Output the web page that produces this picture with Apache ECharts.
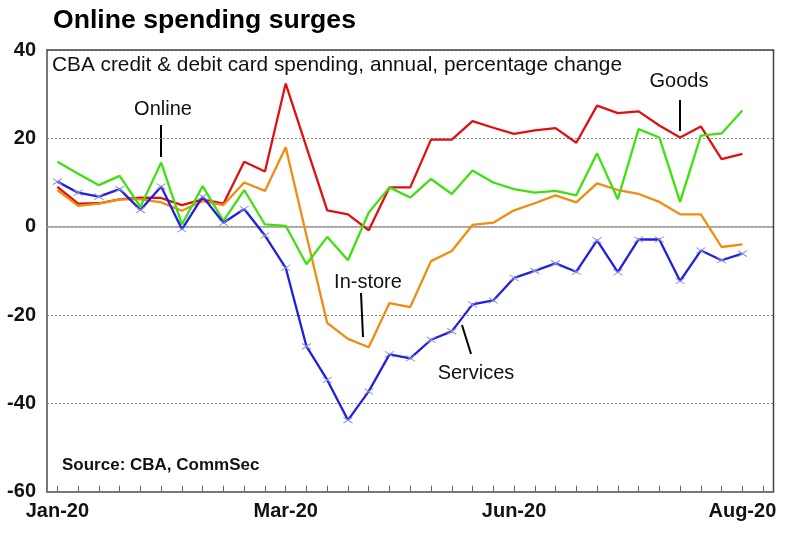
<!DOCTYPE html>
<html>
<head>
<meta charset="utf-8">
<script src="https://cdn.jsdelivr.net/npm/echarts@6/dist/echarts.min.js"></script>
<style>html,body{margin:0;padding:0;background:#fff}#c{width:785px;height:534px}</style>
</head>
<body>
<div id="c"></div>
<script>
// Weekly categories (week ending)
var weeks = ['05-Jan','12-Jan','19-Jan','26-Jan','02-Feb','09-Feb','16-Feb','23-Feb','01-Mar','08-Mar','15-Mar','22-Mar','29-Mar','05-Apr','12-Apr','19-Apr','26-Apr','03-May','10-May','17-May','24-May','31-May','07-Jun','14-Jun','21-Jun','28-Jun','05-Jul','12-Jul','19-Jul','26-Jul','02-Aug','09-Aug','16-Aug','23-Aug','30-Aug'];
var tickLabels = {'05-Jan':'Jan-20','22-Mar':'Mar-20','07-Jun':'Jun-20','23-Aug':'Aug-20'};
var yTicks = [-60, -40, -20, 0, 20, 40];

var goods    = [9.0, 5.2, 5.3, 6.2, 6.6, 6.5, 4.9, 6.2, 5.2, 14.7, 12.5, 32.4, 18.0, 3.7, 2.8, -0.8, 8.9, 8.9, 19.7, 19.7, 23.9, 22.4, 21.0, 21.8, 22.3, 19.0, 27.4, 25.7, 26.1, 22.9, 20.2, 22.7, 15.3, 16.5];
var online   = [14.7, 12.0, 9.4, 11.5, 4.5, 14.5, 0.5, 9.2, 1.3, 8.3, 0.5, 0.2, -8.5, -2.3, -7.6, 3.2, 8.9, 6.6, 10.8, 7.4, 12.7, 10.0, 8.5, 7.7, 8.1, 7.1, 16.6, 6.2, 22.1, 20.2, 5.6, 20.6, 21.1, 26.3];
var instore  = [8.3, 4.7, 5.2, 6.2, 6.2, 5.5, 3.6, 5.8, 4.9, 10.0, 8.1, 18.0, -2.0, -21.8, -25.4, -27.3, -17.3, -18.2, -7.8, -5.5, 0.4, 0.9, 3.7, 5.3, 7.1, 5.5, 9.8, 8.3, 7.4, 5.6, 2.8, 2.8, -4.6, -4.0];
var services = [10.2, 7.7, 6.8, 8.5, 3.8, 9.1, -0.6, 6.8, 0.9, 4.0, -2.0, -9.3, -27.1, -34.7, -43.8, -37.3, -28.9, -29.8, -25.6, -23.7, -17.6, -16.7, -11.6, -10.0, -8.3, -10.2, -3.1, -10.3, -2.9, -2.9, -12.3, -5.4, -7.6, -6.1];

var FONT = "'Liberation Sans', Arial, sans-serif";
var G = {left: 47, top: 50, right: 11.5, bottom: 42.3};
var W = 785, H = 534;
var chart = echarts.init(document.getElementById('c'), null, {renderer: 'canvas'});

function lineSeries(name, data, color, extra) {
  var s = {
    name: name, type: 'line', data: data, xAxisIndex: 0, yAxisIndex: 0,
    showSymbol: false, symbol: 'none', smooth: false,
    lineStyle: {color: color, width: 2.3}, itemStyle: {color: color},
    animation: false, silent: true
  };
  for (var k in extra) s[k] = extra[k];
  return s;
}

var option = {
  animation: false,
  backgroundColor: '#ffffff',
  grid: {left: G.left, top: G.top, right: G.right, bottom: G.bottom, containLabel: false},
  xAxis: [{
    type: 'category', data: weeks, boundaryGap: true,
    axisLine: {show: true, onZero: false, lineStyle: {color: '#777', width: 2}},
    axisTick: {show: true, inside: true, length: 6, alignWithLabel: true, interval: 0, lineStyle: {color: '#666', width: 1}},
    axisLabel: {
      interval: function (i, v) { return tickLabels[v] !== undefined; },
      formatter: function (v) { return tickLabels[v] || ''; },
      fontFamily: FONT, fontSize: 20, fontWeight: 'bold', color: '#111', margin: 10
    },
    splitLine: {show: false}
  }, {
    type: 'category', data: weeks, boundaryGap: true, position: 'bottom',
    axisLine: {show: true, onZero: true, onZeroAxisIndex: 0, lineStyle: {color: '#999', width: 1.5}},
    axisTick: {show: false}, axisLabel: {show: false}, splitLine: {show: false}
  }],
  yAxis: [{
    type: 'value', min: yTicks[0], max: yTicks[yTicks.length - 1], interval: 20,
    axisLine: {show: true, lineStyle: {color: '#777', width: 2}},
    axisTick: {show: false},
    axisLabel: {fontFamily: FONT, fontSize: 20, fontWeight: 'bold', color: '#111', margin: 11},
    splitLine: {show: true, lineStyle: {color: '#888', width: 1, type: [2, 2]}}
  }],
  series: [
    lineSeries('Goods', goods, '#e01010'),
    lineSeries('In-store', instore, '#f08c10'),
    lineSeries('Online', online, '#40e010'),
    lineSeries('Services', services, '#2020e0', {
      showSymbol: true, symbol: 'path://M0,0L8,6M8,0L0,6', symbolSize: [9, 6],
      itemStyle: {color: 'rgba(0,0,0,0)', borderColor: '#8f93d8', borderWidth: 1}
    })
  ],
  graphic: [
    {type: 'polyline', z: 100, silent: true,
     shape: {points: [[G.left, G.top], [W - G.right, G.top], [W - G.right, H - G.bottom]]},
     style: {stroke: '#444', lineWidth: 1.5, fill: null}},
    {type: 'text', left: 53, top: 7, silent: true,
     style: {text: 'Online spending surges', font: "bold 26.6px " + FONT, fill: '#000'}},
    {type: 'text', left: 52, top: 55, silent: true,
     style: {text: 'CBA credit & debit card spending, annual, percentage change', font: "20.8px " + FONT, fill: '#111'}},
    {type: 'text', left: 62, top: 457, silent: true,
     style: {text: 'Source: CBA, CommSec', font: "bold 17px " + FONT, fill: '#111'}},
    {type: 'text', x: 163, y: 109, silent: true,
     style: {text: 'Online', font: "20px " + FONT, fill: '#111', align: 'center', verticalAlign: 'middle'}},
    {type: 'line', silent: true, shape: {x1: 161, y1: 125, x2: 161, y2: 157}, style: {stroke: '#000', lineWidth: 2}},
    {type: 'text', x: 679, y: 81, silent: true,
     style: {text: 'Goods', font: "20px " + FONT, fill: '#111', align: 'center', verticalAlign: 'middle'}},
    {type: 'line', silent: true, shape: {x1: 680, y1: 100, x2: 680, y2: 131}, style: {stroke: '#000', lineWidth: 2}},
    {type: 'text', x: 368, y: 282, silent: true,
     style: {text: 'In-store', font: "20px " + FONT, fill: '#111', align: 'center', verticalAlign: 'middle'}},
    {type: 'line', silent: true, shape: {x1: 361, y1: 293, x2: 363, y2: 337}, style: {stroke: '#000', lineWidth: 2}},
    {type: 'text', x: 476, y: 373, silent: true,
     style: {text: 'Services', font: "20px " + FONT, fill: '#111', align: 'center', verticalAlign: 'middle'}},
    {type: 'line', silent: true, shape: {x1: 462, y1: 325, x2: 471, y2: 354}, style: {stroke: '#000', lineWidth: 2}}
  ]
};
chart.setOption(option);
</script>
</body>
</html>
